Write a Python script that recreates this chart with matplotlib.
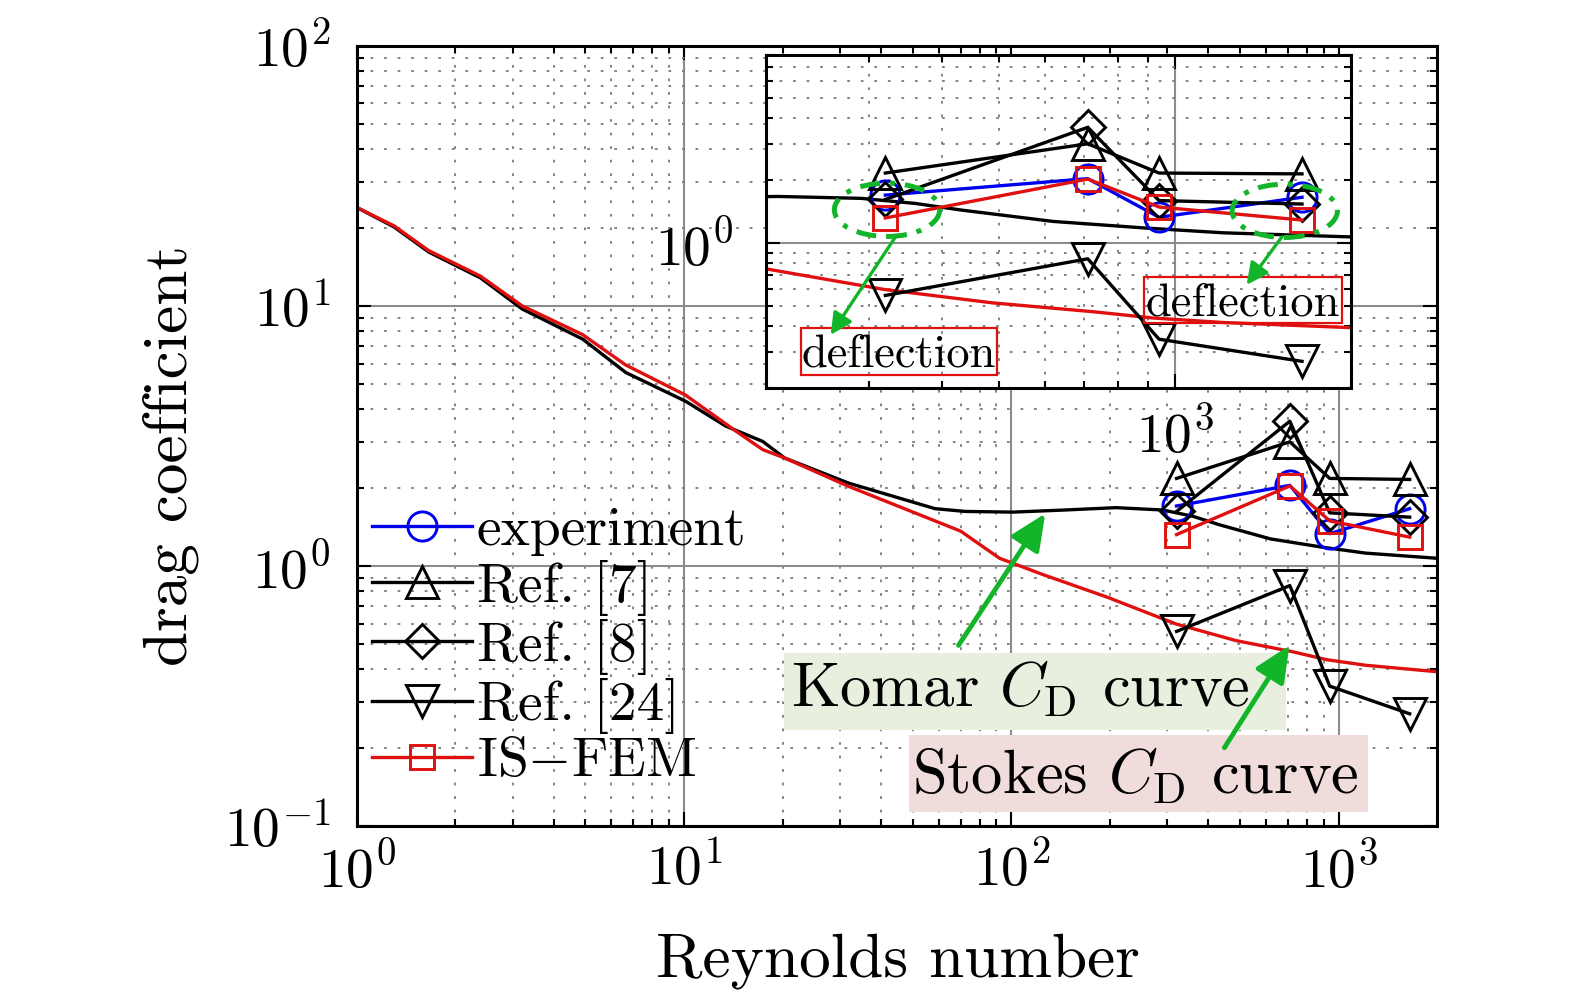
import numpy as np
import matplotlib
matplotlib.use('Agg')
import matplotlib.pyplot as plt
from matplotlib.patches import Ellipse, Rectangle
from matplotlib.ticker import FuncFormatter, LogLocator, NullFormatter

plt.rcParams['font.family'] = 'serif'
plt.rcParams['font.serif'] = ['cmr10']
plt.rcParams['mathtext.fontset'] = 'cm'

# Plot constants
RED = '#e01010'
BLUE = '#0000f0'
GREEN = '#12b52a'
KOMAR_BG = '#e8efdf'
STOKES_BG = '#efdcdb'
MAJOR_GRID = '#8c8c8c'
MINOR_GRID = '#7a7a7a'
TICK_SIZE = 40
LABEL_SIZE = 45.5
LEGEND_SIZE = 40
NOTE_SIZE = 45
INSET_NOTE_SIZE = 33.5
LW = 2.4

# Komar C_D curve (black)
komar_re = [1.0, 1.3, 1.66, 2.39, 3.2, 4.9, 6.64, 10.1, 13.4, 17.4, 20.3, 31.9,
            58.5, 72.3, 101, 145, 209, 291, 360, 432, 620, 894, 1210, 2000]
komar_cd = [23.9, 20.1, 16.1, 12.8, 9.73, 7.45, 5.54, 4.30, 3.45, 3.01, 2.60, 2.08,
            1.66, 1.62, 1.61, 1.64, 1.675, 1.64, 1.55, 1.44, 1.27, 1.18, 1.12, 1.07]

# Stokes C_D curve (red)
stokes_re = [1.0, 1.3, 1.66, 2.39, 3.2, 4.9, 6.64, 10.1, 14.4, 17.4, 20.3, 31.9,
             70.1, 92.1, 125, 196, 319, 487, 723, 920, 1210, 2000]
stokes_cd = [23.9, 20.3, 16.3, 13.0, 10.0, 7.75, 5.92, 4.54, 3.30, 2.80, 2.60, 2.02,
             1.36, 1.07, 0.926, 0.759, 0.598, 0.516, 0.468, 0.436, 0.415, 0.392]

# measured / reference points
re_pts = [320, 710, 940, 1650]
experiment = [1.70, 2.04, 1.33, 1.66]
ref7 = [2.17, 3.0, 2.17, 2.15]
ref8 = [1.62, 3.6, 1.60, 1.54]
ref24 = [0.56, 0.84, 0.345, 0.27]
is_fem = [1.32, 2.03, 1.49, 1.29]

SERIES = [
    (experiment, 'experiment', BLUE, 'o', 21),
    (ref7, 'Ref. [7]', 'k', '^', 23),
    (ref8, 'Ref. [8]', 'k', 'D', 17),
    (ref24, 'Ref. [24]', 'k', 'v', 23),
    (is_fem, r'IS$-$FEM', RED, 's', 17),
]


def pow_label(v, pos):
    return r'$10^{%d}$' % int(round(np.log10(v)))


def draw_data(ax):
    ax.plot(komar_re, komar_cd, color='k', lw=LW, zorder=2)
    ax.plot(stokes_re, stokes_cd, color=RED, lw=LW, zorder=2)
    for vals, label, color, marker, ms in SERIES:
        ax.plot(re_pts, vals, '-', marker=marker, color=color, ms=ms, mfc='none',
                mew=2.1, lw=LW, label=label, zorder=3)


def style_axes(ax):
    ax.set_xscale('log')
    ax.set_yscale('log')
    ax.xaxis.set_minor_locator(LogLocator(base=10, subs=np.arange(2, 10)))
    ax.yaxis.set_minor_locator(LogLocator(base=10, subs=np.arange(2, 10)))
    ax.xaxis.set_minor_formatter(NullFormatter())
    ax.yaxis.set_minor_formatter(NullFormatter())
    ax.grid(True, which='major', color=MAJOR_GRID, lw=1.5, ls='-')
    ax.grid(True, which='minor', color=MINOR_GRID, lw=1.3, ls=(0, (1.5, 6)))
    ax.set_axisbelow(True)
    ax.tick_params(which='both', direction='in', top=True, right=True, width=1.5,
                   labelsize=TICK_SIZE)
    ax.tick_params(which='major', length=10)
    ax.tick_params(which='minor', length=5)
    for sp in ax.spines.values():
        sp.set_linewidth(2.2)
    ax.xaxis.set_major_formatter(FuncFormatter(pow_label))
    ax.yaxis.set_major_formatter(FuncFormatter(pow_label))


def note_box(ax, x0, y0, x1, y1, **kw):
    ax.add_patch(Rectangle((x0, y0), x1 - x0, y1 - y0, transform=ax.transAxes,
                           zorder=4, **kw))


fig = plt.figure(figsize=(15.75, 9.94), dpi=100)

# Main axes
ax = fig.add_axes([0.2265, 0.169, 0.6859, 0.785])
style_axes(ax)
ax.tick_params(axis='x', pad=12)
ax.tick_params(axis='y', pad=19)
draw_data(ax)
ax.set_xlim(1, 2000)
ax.set_ylim(0.1, 100)
ax.set_xlabel('Reynolds number', fontsize=LABEL_SIZE, va='center')
ax.set_ylabel('drag coefficient', fontsize=LABEL_SIZE, va='center')
ax.xaxis.set_label_coords(0.501, -0.173)
ax.yaxis.set_label_coords(-0.172, 0.475)

ax.legend(loc='center left', bbox_to_anchor=(0.0138, 0.2295), frameon=False,
          fontsize=LEGEND_SIZE, numpoints=1, handlelength=1.8, handletextpad=0.09,
          labelspacing=0.06, borderpad=0, borderaxespad=0)

note_box(ax, 0.3951, 0.1230, 0.8600, 0.2217, fc=KOMAR_BG, ec='none')
ax.text(0.4016, 0.1538, r'Komar $C_\mathrm{D}$ curve', transform=ax.transAxes,
        fontsize=NOTE_SIZE, ha='left', va='baseline', zorder=4.5)
note_box(ax, 0.5113, 0.01845, 0.9361, 0.1166, fc=STOKES_BG, ec='none')
ax.text(0.5140, 0.0417, r'Stokes $C_\mathrm{D}$ curve', transform=ax.transAxes,
        fontsize=NOTE_SIZE, ha='left', va='baseline', zorder=4.5)

big_arrow = dict(arrowstyle='-|>,head_length=0.55,head_width=0.25', color=GREEN,
                 lw=3.5, mutation_scale=40, shrinkA=0, shrinkB=0)
ax.annotate('', xy=(127, 1.59), xytext=(69, 0.495), arrowprops=big_arrow, zorder=5)
ax.annotate('', xy=(708, 0.495), xytext=(448, 0.20), arrowprops=big_arrow, zorder=5)

# Inset axes
ax_in = fig.add_axes([0.4863, 0.6092, 0.3714, 0.3353])
ax_in.set_facecolor('white')
style_axes(ax_in)
draw_data(ax_in)
ax_in.set_xlim(200, 2000)
ax_in.set_ylim(0.2, 8)
ax_in.set_xticks([1000])
ax_in.set_yticks([1])
ax_in.xaxis.set_minor_formatter(NullFormatter())
ax_in.yaxis.set_minor_formatter(NullFormatter())
ax_in.tick_params(axis='x', pad=14)
ax_in.tick_params(axis='y', pad=24)

for cx, cy in [(0.207, 0.536), (0.887, 0.533)]:
    ax_in.add_patch(Ellipse((cx, cy), 0.18, 0.16, transform=ax_in.transAxes,
                            fill=False, ec=GREEN, lw=3.6, ls=(0, (4, 2, 1, 2)), zorder=5))

small_arrow = dict(arrowstyle='-|>,head_length=0.5,head_width=0.25', color=GREEN,
                   lw=2.4, mutation_scale=26, shrinkA=0, shrinkB=0)
ax_in.annotate('', xy=(258, 0.362), xytext=(333, 1.07), arrowprops=small_arrow, zorder=5)
ax_in.annotate('', xy=(1327, 0.63), xytext=(1524, 1.07), arrowprops=small_arrow, zorder=5)

note_box(ax_in, 0.0598, 0.0411, 0.395, 0.182, fc='none', ec=RED, lw=1.6)
ax_in.text(0.227, 0.066, 'deflection', transform=ax_in.transAxes,
           fontsize=INSET_NOTE_SIZE, ha='center', va='baseline', zorder=4.5)
note_box(ax_in, 0.646, 0.197, 0.985, 0.335, fc='none', ec=RED, lw=1.6)
ax_in.text(0.815, 0.219, 'deflection', transform=ax_in.transAxes,
           fontsize=INSET_NOTE_SIZE, ha='center', va='baseline', zorder=4.5)

fig.savefig('out.png', dpi=100)
